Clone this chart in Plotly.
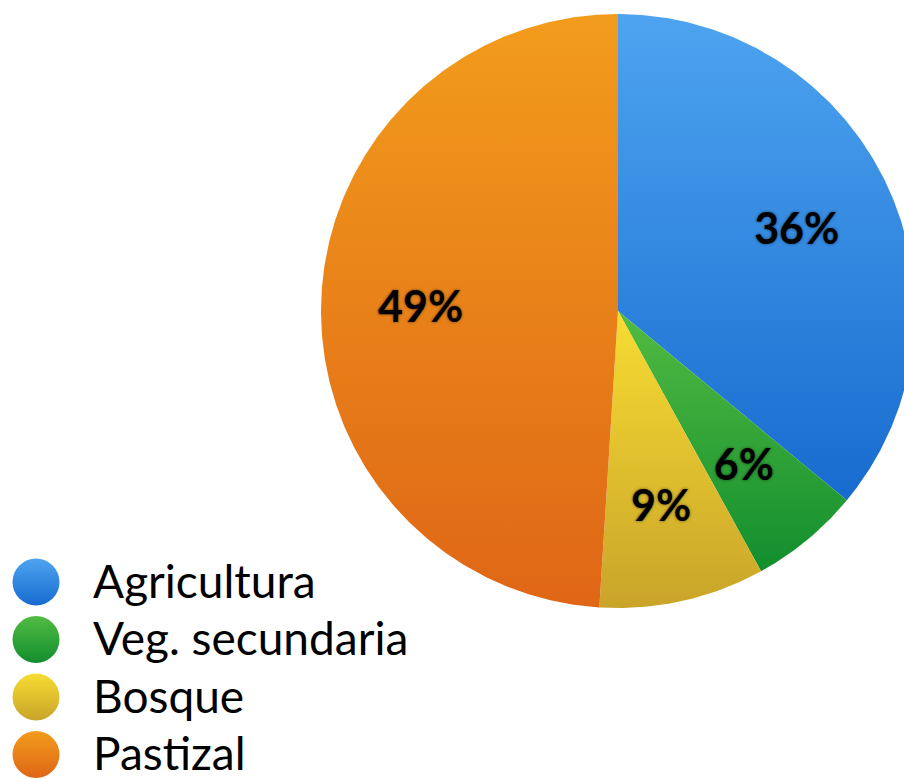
import numpy as np
import plotly.graph_objects as go

# Land-use shares
categories = ["Agricultura", "Veg. secundaria", "Bosque", "Pastizal"]
values = [36, 6, 9, 49]

# Vertical gradients per category: (top colour, bottom colour)
gradients = [
    ("#4ea4f0", "#176bcf"),
    ("#52bb42", "#128e2e"),
    ("#f7dc32", "#c9a42a"),
    ("#f29c1c", "#df6616"),
]

W, H = 904, 779
CX, CY, R = 618, 311, 297          # pie centre and radius (pixel units)
LABEL_FRAC = 0.665                 # radial position of the percent labels
LABEL_DY = 6                       # small downward nudge for label baseline

fig = go.Figure()

total = float(sum(values))
start = 0.0
label_x, label_y, label_txt = [], [], []
for name, val, (c_top, c_bot) in zip(categories, values, gradients):
    frac = val / total
    a0, a1 = start * 2 * np.pi, (start + frac) * 2 * np.pi
    t = np.linspace(a0, a1, max(int(frac * 720), 8))
    xs = np.concatenate([[CX], CX + R * np.sin(t), [CX]])
    ys = np.concatenate([[CY], CY - R * np.cos(t), [CY]])
    fig.add_trace(go.Scatter(
        x=xs, y=ys, mode="lines", fill="toself",
        line=dict(width=0, color=c_bot),
        fillgradient=dict(type="vertical",
                          colorscale=[[0, c_bot], [1, c_top]]),
        hoverinfo="skip", showlegend=False, name=name,
    ))
    mid = (a0 + a1) / 2
    label_x.append(CX + LABEL_FRAC * R * np.sin(mid))
    label_y.append(CY - LABEL_FRAC * R * np.cos(mid) + LABEL_DY)
    label_txt.append(f"{round(frac * 100):d}%")
    start += frac

# Percent labels
fig.add_trace(go.Scatter(
    x=label_x, y=label_y, mode="text", text=label_txt,
    textposition="middle center",
    textfont=dict(family="Lato", size=43, color="#000000", weight="bold",
                  shadow="0px 0px 3px rgba(0,0,0,0.55)"),
    hoverinfo="skip", showlegend=False,
))

# Legend drawn as gradient discs with labels
LEG_X, LEG_Y0, LEG_DY, TXT_X = 36, 582, 57.5, 93
leg_y = [LEG_Y0 + i * LEG_DY for i in range(len(categories))]
for yy, (c_top, c_bot) in zip(leg_y, gradients):
    fig.add_trace(go.Scatter(
        x=[LEG_X], y=[yy], mode="markers",
        marker=dict(size=47, symbol="circle", color=c_top,
                    gradient=dict(type="vertical", color=c_bot),
                    line=dict(width=0)),
        hoverinfo="skip", showlegend=False,
    ))
fig.add_trace(go.Scatter(
    x=[TXT_X] * len(categories), y=[v + 4 for v in leg_y],
    mode="text", text=categories,
    textposition="middle right",
    textfont=dict(family="Lato", size=46, color="#000000"),
    hoverinfo="skip", showlegend=False,
))

fig.update_layout(
    width=W, height=H,
    margin=dict(l=0, r=0, t=0, b=0),
    paper_bgcolor="white", plot_bgcolor="white",
    xaxis=dict(range=[0, W], visible=False, fixedrange=True),
    yaxis=dict(range=[H, 0], visible=False, fixedrange=True),
)

fig.write_html("out.html")
